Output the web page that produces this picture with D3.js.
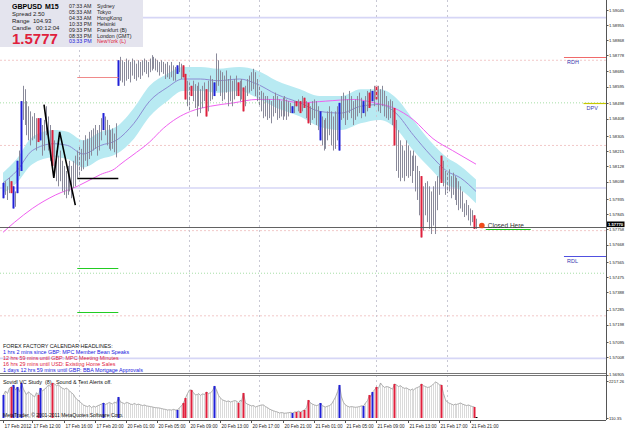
<!DOCTYPE html>
<html>
<head>
<meta charset="utf-8">
<script src="https://cdn.jsdelivr.net/npm/d3@7"></script>
<style>
body { margin: 0; background: #fff; }
svg text { font-family: "Liberation Sans", Arial, sans-serif; }
</style>
</head>
<body>
<div id="chart"></div>
<script>
const SVG_WIDTH = 625;
const SVG_HEIGHT = 429;
const AXIS_X = 606;          // price axis line
const MAIN_BOTTOM = 373;     // bottom of price window
const IND = { TOP: 381, BOTTOM: 418, FRAME: 420 };

// GBPUSD M15, bar highs / lows (17 Feb 2012 08:15 .. 21 Feb 2012 21:45)
const highs = [
  1.5803, 1.5804, 1.5801, 1.5806, 1.5804, 1.5801, 1.5798, 1.5816, 1.5822, 1.5851,
  1.5860, 1.5858, 1.5851, 1.5848, 1.5845, 1.5842, 1.5844, 1.5841, 1.5841, 1.5841,
  1.5837, 1.5840, 1.5848, 1.5842, 1.5837, 1.5834, 1.5828, 1.5822, 1.5819, 1.5822,
  1.5816, 1.5813, 1.5810, 1.5813, 1.5816, 1.5813, 1.5816, 1.5819, 1.5822, 1.5825,
  1.5823, 1.5828, 1.5831, 1.5829, 1.5833, 1.5834, 1.5835, 1.5837, 1.5834, 1.5837,
  1.5841, 1.5844, 1.5842, 1.5840, 1.5837, 1.5834, 1.5835, 1.5832, 1.5838, 1.5875,
  1.5877, 1.5875, 1.5874, 1.5876, 1.5875, 1.5874, 1.5876, 1.5875, 1.5873, 1.5875,
  1.5874, 1.5875, 1.5876, 1.5875, 1.5874, 1.5876, 1.5878, 1.5877, 1.5876, 1.5875,
  1.5874, 1.5875, 1.5874, 1.5873, 1.5874, 1.5872, 1.5874, 1.5872, 1.5871, 1.5872,
  1.5874, 1.5873, 1.5872, 1.5867, 1.5863, 1.5862, 1.5860, 1.5863, 1.5861, 1.5860,
  1.5862, 1.5858, 1.5860, 1.5862, 1.5858, 1.5863, 1.5866, 1.5864, 1.5862, 1.5879,
  1.5875, 1.5869, 1.5868, 1.5866, 1.5869, 1.5864, 1.5866, 1.5863, 1.5864, 1.5866,
  1.5862, 1.5863, 1.5864, 1.5859, 1.5860, 1.5864, 1.5866, 1.5868, 1.5870, 1.5868,
  1.5864, 1.5860, 1.5857, 1.5856, 1.5854, 1.5854, 1.5852, 1.5851, 1.5854, 1.5856,
  1.5854, 1.5852, 1.5851, 1.5853, 1.5854, 1.5852, 1.5851, 1.5850, 1.5848, 1.5851,
  1.5851, 1.5852, 1.5851, 1.5854, 1.5853, 1.5851, 1.5850, 1.5848, 1.5851, 1.5852,
  1.5851, 1.5848, 1.5845, 1.5842, 1.5840, 1.5841, 1.5845, 1.5848, 1.5845, 1.5842,
  1.5845, 1.5848, 1.5850, 1.5854, 1.5856, 1.5854, 1.5852, 1.5857, 1.5854, 1.5851,
  1.5852, 1.5854, 1.5856, 1.5853, 1.5851, 1.5854, 1.5857, 1.5856, 1.5858, 1.5857,
  1.5860, 1.5860, 1.5860, 1.5858, 1.5860, 1.5857, 1.5854, 1.5851, 1.5852, 1.5851,
  1.5847, 1.5840, 1.5834, 1.5828, 1.5825, 1.5822, 1.5828, 1.5825, 1.5822, 1.5819,
  1.5822, 1.5819, 1.5813, 1.5810, 1.5807, 1.5801, 1.5803, 1.5804, 1.5801, 1.5798,
  1.5801, 1.5804, 1.5807, 1.5813, 1.5819, 1.5816, 1.5810, 1.5809, 1.5811, 1.5807,
  1.5809, 1.5807, 1.5806, 1.5804, 1.5801, 1.5798, 1.5791, 1.5793, 1.5790, 1.5788,
  1.5787, 1.5784, 1.5782
];
const lows = [
  1.5794, 1.5796, 1.5793, 1.5797, 1.5797, 1.5788, 1.5789, 1.5797, 1.5807, 1.5810,
  1.5840, 1.5837, 1.5831, 1.5828, 1.5825, 1.5828, 1.5829, 1.5822, 1.5827, 1.5828,
  1.5819, 1.5822, 1.5831, 1.5822, 1.5816, 1.5813, 1.5807, 1.5804, 1.5801, 1.5804,
  1.5798, 1.5796, 1.5794, 1.5796, 1.5798, 1.5794, 1.5800, 1.5801, 1.5806, 1.5807,
  1.5810, 1.5811, 1.5816, 1.5813, 1.5817, 1.5819, 1.5822, 1.5823, 1.5819, 1.5822,
  1.5828, 1.5834, 1.5831, 1.5825, 1.5823, 1.5822, 1.5823, 1.5821, 1.5818, 1.5860,
  1.5863, 1.5862, 1.5860, 1.5863, 1.5864, 1.5862, 1.5866, 1.5864, 1.5863, 1.5865,
  1.5864, 1.5866, 1.5868, 1.5867, 1.5865, 1.5868, 1.5869, 1.5870, 1.5869, 1.5868,
  1.5866, 1.5868, 1.5867, 1.5864, 1.5865, 1.5864, 1.5865, 1.5863, 1.5863, 1.5867,
  1.5868, 1.5864, 1.5865, 1.5852, 1.5848, 1.5845, 1.5854, 1.5851, 1.5847, 1.5842,
  1.5848, 1.5844, 1.5847, 1.5851, 1.5842, 1.5845, 1.5851, 1.5852, 1.5854, 1.5857,
  1.5860, 1.5854, 1.5851, 1.5852, 1.5856, 1.5848, 1.5851, 1.5848, 1.5852, 1.5854,
  1.5854, 1.5851, 1.5852, 1.5845, 1.5848, 1.5854, 1.5856, 1.5857, 1.5858, 1.5854,
  1.5851, 1.5848, 1.5845, 1.5841, 1.5842, 1.5840, 1.5841, 1.5838, 1.5842, 1.5844,
  1.5840, 1.5841, 1.5842, 1.5840, 1.5842, 1.5840, 1.5842, 1.5844, 1.5844, 1.5844,
  1.5848, 1.5845, 1.5844, 1.5845, 1.5847, 1.5841, 1.5838, 1.5837, 1.5840, 1.5841,
  1.5837, 1.5834, 1.5828, 1.5825, 1.5822, 1.5823, 1.5828, 1.5831, 1.5825, 1.5822,
  1.5823, 1.5828, 1.5822, 1.5840, 1.5841, 1.5837, 1.5840, 1.5844, 1.5841, 1.5837,
  1.5840, 1.5842, 1.5844, 1.5841, 1.5844, 1.5842, 1.5845, 1.5847, 1.5848, 1.5851,
  1.5848, 1.5852, 1.5845, 1.5844, 1.5848, 1.5842, 1.5841, 1.5840, 1.5841, 1.5837,
  1.5825, 1.5810, 1.5806, 1.5804, 1.5806, 1.5804, 1.5807, 1.5806, 1.5807, 1.5803,
  1.5810, 1.5798, 1.5793, 1.5784, 1.5771, 1.5775, 1.5784, 1.5780, 1.5776, 1.5773,
  1.5778, 1.5773, 1.5787, 1.5796, 1.5803, 1.5801, 1.5796, 1.5797, 1.5798, 1.5794,
  1.5796, 1.5793, 1.5790, 1.5787, 1.5788, 1.5786, 1.5783, 1.5784, 1.5781, 1.5778,
  1.5780, 1.5776, 1.5776
];
// tick volume of each bar (Sovidl VC Study window)
const volumes = [
  1421, 1650, 1500, 1820, 1877, 1991, 1700, 1877, 1600, 2105,
  1750, 1535, 1450, 1600, 1500, 1421, 1300, 1550, 1421, 1820,
  1650, 1750, 1850, 1991, 1900, 2105, 2050, 1950, 2000, 1877,
  1800, 1750, 1820, 1706, 1650, 1550, 1450, 1250, 1150, 1050,
  950, 851, 800, 760, 820, 700, 780, 737, 800, 850,
  900, 965, 880, 940, 1000, 965, 900, 1020, 950, 1307,
  1022, 980, 920, 1000, 965, 900, 880, 940, 870, 900,
  860, 820, 851, 800, 780, 760, 740, 720, 700, 690,
  680, 650, 620, 600, 566, 580, 560, 600, 566, 566,
  700, 800, 965, 1250, 1500, 1706, 1706, 1550, 1421, 1450,
  1500, 1400, 1480, 1450, 1592, 1500, 1550, 1650, 1934, 1706,
  1400, 1250, 1136, 1100, 1050, 1080, 1022, 1060, 1100, 1080,
  965, 1136, 1050, 1535, 965, 900, 850, 800, 820, 737,
  780, 820, 851, 851, 760, 700, 620, 566, 520, 480,
  450, 395, 420, 400, 380, 395, 410, 430, 395, 452,
  452, 500, 452, 520, 566, 700, 1136, 965, 900, 850,
  820, 851, 965, 800, 760, 737, 780, 820, 900, 1100,
  1300, 1600, 1991, 1307, 1000, 850, 780, 737, 760, 740,
  720, 737, 760, 800, 794, 965, 1100, 1421, 1300, 1592,
  1700, 1877, 1800, 2105, 1950, 1850, 1900, 1877, 1820, 1750,
  2048, 1991, 1900, 1950, 1850, 1800, 1820, 1750, 1700, 1760,
  1706, 1800, 1850, 1900, 2048, 1950, 1900, 1850, 1877, 1950,
  2050, 2162, 2100, 2000, 1991, 1500, 1136, 1000, 950, 900,
  851, 900, 880, 920, 965, 900, 860, 820, 851, 800,
  760, 737, 167
];
const blueBars = [0, 5, 7, 9, 19, 51, 59, 89, 108, 148, 162, 172, 184, 189];
const redBars = [4, 18, 25, 92, 93, 96, 104, 120, 123, 150, 152, 154, 156, 187, 191, 200, 214, 224, 241];

// fast MA with its channel, read at sampled bars
const fastIdx = [0, 7, 15, 26, 33, 41, 50, 58, 67, 75, 84, 92, 101, 110, 121, 130, 140, 152, 162, 173, 183, 193, 201, 210, 219, 227, 234, 242];
const fastMa = [1.5803, 1.5810, 1.5822, 1.5826, 1.5825, 1.5820, 1.5825, 1.5828, 1.5838, 1.5851, 1.5859, 1.5864, 1.5864, 1.5863,
  1.5864, 1.5861, 1.5855, 1.5850, 1.5845, 1.5844, 1.5848, 1.5849, 1.5844, 1.5831, 1.5819, 1.5810, 1.5806, 1.5798];
const bandUpper = [1.5809, 1.5817, 1.5830, 1.5834, 1.5833, 1.5828, 1.5833, 1.5836, 1.5847, 1.5860, 1.5867, 1.5871, 1.5871, 1.5870,
  1.5871, 1.5869, 1.5863, 1.5858, 1.5854, 1.5854, 1.5858, 1.5858, 1.5853, 1.5840, 1.5827, 1.5818, 1.5813, 1.5805];
const bandLower = [1.5797, 1.5803, 1.5814, 1.5818, 1.5817, 1.5812, 1.5817, 1.5820, 1.5829, 1.5842, 1.5851, 1.5857, 1.5857, 1.5856,
  1.5857, 1.5853, 1.5847, 1.5842, 1.5836, 1.5834, 1.5838, 1.5840, 1.5835, 1.5822, 1.5811, 1.5802, 1.5799, 1.5791];
// slow MA (magenta)
const slowIdx = [0, 6, 15, 27, 38, 50, 58, 59, 66, 75, 82, 89, 96, 106, 118, 130, 140, 152, 165, 180, 190, 200, 210, 220, 230, 242];
const slowMa = [1.5774, 1.5780, 1.5788, 1.5796, 1.5801, 1.5808, 1.5812, 1.5813, 1.5819, 1.5827, 1.5835, 1.5841, 1.5845, 1.5848,
  1.5850, 1.5852, 1.5852, 1.5850, 1.5851, 1.5852, 1.5850, 1.5847, 1.5840, 1.5829, 1.5822, 1.5814];

// drawn objects
const zigzagIdx = [21, 26, 29, 37];
const zigzagPrice = [1.5849, 1.5806, 1.5833, 1.5790];
const fridayLines = [
  { from: 38, to: 59, price: 1.5865, color: "#f08a8a" },
  { from: 38, to: 59, price: 1.5806, color: "#000000" },
  { from: 38, to: 59, price: 1.5753, color: "#22cc22" },
  { from: 38, to: 59, price: 1.5727, color: "#22cc22" }
];
const pivotNames = ["RDH", "DPV", "RDL"];
const pivotPrices = [1.5877, 1.5850, 1.5760];
const pivotFrom = [287, 297, 287];
const pivotColors = ["#f06a6a", "#c8c800", "#5050e0"];
const roundLevels = [1.5900, 1.5800, 1.5700];
const halfLevels = [1.5850, 1.5750];
const quarterLevels = [1.5875, 1.5825, 1.5775, 1.5725];
const sessionBars = [39, 95, 131, 191, 227];
const lastPrice = 1.5777;
const closedIdx = 245;

// axis labels
const priceTicks = [1.59045, 1.58955, 1.58868, 1.58778, 1.58685, 1.58595, 1.58498, 1.58408, 1.58305, 1.58215, 1.58128, 1.58038,
  1.57935, 1.57845, 1.57758, 1.57668, 1.57565, 1.57475, 1.57388, 1.57285, 1.57198, 1.57095, 1.57008, 1.56905];
const timeLabels = ["17 Feb 2012", "17 Feb 12:00", "17 Feb 16:00", "17 Feb 20:00", "20 Feb 01:00", "20 Feb 05:00",
  "20 Feb 09:00", "20 Feb 13:00", "20 Feb 17:00", "20 Feb 21:00", "21 Feb 01:00", "21 Feb 05:00",
  "21 Feb 09:00", "21 Feb 13:00", "21 Feb 17:00", "21 Feb 21:00"];
const timeIdx = [0, 15, 31, 47, 63, 79, 95, 111, 127, 143, 159, 175, 191, 207, 223, 239];
const volMax = 2217.26, volMin = 110.35;

// info panel texts
const infoLabels = ["Spread", "Range", "Candle"];
const infoValues = ["2.50", "104.93", "00:12:04"];
const clockTimes = ["07:33 AM", "05:33 AM", "04:33 AM", "10:33 PM", "09:33 PM", "08:33 PM", "03:33 PM"];
const clockCities = ["Sydney", "Tokyo", "HongKong", "Helsinki", "Frankfurt (B)", "London (GMT)", "NewYork (L)"];
const newsLines = [
  "1 hrs 2 mins since GBP: MPC Member Bean Speaks",
  "12 hrs 59 mins until GBP: MPC Meeting Minutes",
  "16 hrs 29 mins until USD: Existing Home Sales",
  "1 days 12 hrs 59 mins until GBP: BBA Mortgage Approvals"
];
const newsColors = ["#2020e0", "#e0203c", "#e0203c", "#2020e0"];

const RED = "#e0203c", BLUE = "#2020d8";

function draw() {
  const svg = d3.select("#chart").append("svg")
    .attr("width", SVG_WIDTH)
    .attr("height", SVG_HEIGHT);
  svg.append("rect").attr("width", SVG_WIDTH).attr("height", SVG_HEIGHT).attr("fill", "#fff");

  const N = highs.length;
  const x = d3.scaleLinear().domain([0, N - 1]).range([3, 476]);
  const y = d3.scaleLinear().domain([1.56905, 1.59045]).range([374.6, 10]);
  const yv = d3.scaleLinear().domain([volMin, volMax]).range([IND.BOTTOM, IND.TOP]);
  const px = i => Math.round(x(i)) + 0.5;

  svg.append("clipPath").attr("id", "mainClip").append("rect")
    .attr("width", AXIS_X).attr("height", MAIN_BOTTOM);
  const main = svg.append("g").attr("clip-path", "url(#mainClip)");

  // round number levels
  main.selectAll(".rl").data(roundLevels).enter().append("line")
    .attr("x1", 0).attr("x2", AXIS_X).attr("y1", d => y(d)).attr("y2", d => y(d))
    .attr("stroke", "#d6d6f6").attr("stroke-width", 1.6);
  main.selectAll(".hl").data(halfLevels).enter().append("line")
    .attr("x1", 0).attr("x2", AXIS_X).attr("y1", d => y(d)).attr("y2", d => y(d))
    .attr("stroke", "#a6dea6").attr("stroke-dasharray", "1,2");
  main.selectAll(".ql").data(quarterLevels).enter().append("line")
    .attr("x1", 0).attr("x2", AXIS_X).attr("y1", d => y(d)).attr("y2", d => y(d))
    .attr("stroke", "#f2c8c8").attr("stroke-dasharray", "2,2");

  // session separators
  svg.selectAll(".sess").data(sessionBars).enter().append("line")
    .attr("x1", d => px(d)).attr("x2", d => px(d)).attr("y1", 0).attr("y2", IND.FRAME)
    .attr("stroke", "#c8c8d4").attr("stroke-dasharray", "2,3");

  // channel + fast MA
  const band = fastIdx.map((d, k) => ({ i: d, hi: bandUpper[k], lo: bandLower[k], m: fastMa[k] }));
  main.append("path").datum(band)
    .attr("d", d3.area().x(d => x(d.i)).y0(d => y(d.lo)).y1(d => y(d.hi)).curve(d3.curveMonotoneX))
    .attr("fill", "#b8eaf2");
  main.append("path").datum(band)
    .attr("d", d3.line().x(d => x(d.i)).y(d => y(d.m)).curve(d3.curveMonotoneX))
    .attr("fill", "none").attr("stroke", "#8c8cd4").attr("stroke-width", 1);

  // slow MA
  main.append("path").datum(slowIdx.map((d, k) => [d, slowMa[k]]))
    .attr("d", d3.line().x(d => x(d[0])).y(d => y(d[1])).curve(d3.curveMonotoneX))
    .attr("fill", "none").attr("stroke", "#f060f0").attr("stroke-width", 1);

  // bars
  const bars = d3.range(N);
  main.selectAll(".bar").data(bars).enter().append("line")
    .attr("x1", i => px(i)).attr("x2", i => px(i))
    .attr("y1", i => y(highs[i])).attr("y2", i => y(lows[i]))
    .attr("stroke", "#8a8a9a").attr("stroke-width", 1);
  const colored = blueBars.map(i => [i, BLUE]).concat(redBars.map(i => [i, RED]));
  main.selectAll(".cbar").data(colored).enter().append("rect")
    .attr("x", d => Math.round(x(d[0])) - 0.5).attr("width", 2)
    .attr("y", d => y(highs[d[0]])).attr("height", d => y(lows[d[0]]) - y(highs[d[0]]))
    .attr("fill", d => d[1]);

  // zigzag
  main.append("path").datum(zigzagIdx.map((d, k) => [d, zigzagPrice[k]]))
    .attr("d", d3.line().x(d => x(d[0])).y(d => y(d[1])))
    .attr("fill", "none").attr("stroke", "#000").attr("stroke-width", 1.6);

  // friday levels
  main.selectAll(".fri").data(fridayLines).enter().append("line")
    .attr("x1", d => x(d.from)).attr("x2", d => x(d.to))
    .attr("y1", d => Math.round(y(d.price)) + 0.5).attr("y2", d => Math.round(y(d.price)) + 0.5)
    .attr("stroke", d => d.color).attr("stroke-width", d => d.color === "#000000" ? 1.5 : 1);

  // pivots on the right
  pivotNames.forEach((name, k) => {
    const yy = Math.round(y(pivotPrices[k])) + 0.5;
    main.append("line").attr("x1", x(pivotFrom[k])).attr("x2", AXIS_X).attr("y1", yy).attr("y2", yy)
      .attr("stroke", pivotColors[k]).attr("stroke-width", 1.2);
    main.append("text").attr("x", x(pivotFrom[k]) + 3).attr("y", yy + 6)
      .attr("font-size", 5.5).attr("fill", "#3a3ab0").text(name);
  });

  // last price line
  const ly = Math.round(y(lastPrice)) + 0.5;
  main.append("line").attr("x1", 0).attr("x2", AXIS_X).attr("y1", ly).attr("y2", ly)
    .attr("stroke", "#505050").attr("stroke-width", 0.9);

  // closed here marker
  main.append("line").attr("x1", x(closedIdx + 2)).attr("x2", x(closedIdx + 25))
    .attr("y1", ly + 2).attr("y2", ly + 2).attr("stroke", "#22cc22").attr("stroke-width", 1.2);
  main.append("circle").attr("cx", x(closedIdx)).attr("cy", y(lastPrice + 0.0001)).attr("r", 2.8)
    .attr("fill", "#f04a1a");
  main.append("text").attr("x", x(closedIdx) + 6).attr("y", ly)
    .attr("font-size", 6.5).attr("fill", "#333").text("Closed Here");

  // info panel
  const info = svg.append("g");
  info.append("rect").attr("x", 0).attr("y", 0).attr("width", 143).attr("height", 47).attr("fill", "#e4e4ee");
  info.append("text").attr("x", 12).attr("y", 8.5).attr("font-size", 7).attr("font-weight", "bold").text("GBPUSD");
  info.append("text").attr("x", 45).attr("y", 8.5).attr("font-size", 7).attr("font-weight", "bold").text("M15");
  infoLabels.forEach((t, k) => {
    info.append("text").attr("x", 12).attr("y", 16 + k * 7).attr("font-size", 6).attr("fill", "#222").text(t);
    info.append("text").attr("x", k === 2 ? 36 : 33).attr("y", 16 + k * 7).attr("font-size", 6).attr("fill", "#222").text(infoValues[k]);
  });
  info.append("text").attr("x", 12).attr("y", 43.5).attr("font-size", 15).attr("font-weight", "bold")
    .attr("fill", RED).text(lastPrice.toFixed(4));
  clockTimes.forEach((t, k) => {
    const last = k === clockTimes.length - 1;
    info.append("text").attr("x", 69).attr("y", 8 + k * 5.9).attr("font-size", 5.3)
      .attr("fill", last ? BLUE : "#222").text(t);
    info.append("text").attr("x", 97).attr("y", 8 + k * 5.9).attr("font-size", 5.3)
      .attr("fill", last ? RED : "#222").text(clockCities[k]);
  });

  // news headlines
  svg.append("text").attr("x", 3).attr("y", 347.5).attr("font-size", 5.4).attr("fill", "#111")
    .text("FOREX FACTORY CALENDAR HEADLINES:");
  svg.selectAll(".news").data(newsLines).enter().append("text")
    .attr("x", 3).attr("y", (d, k) => 354 + k * 6)
    .attr("font-size", 5.4).attr("fill", (d, k) => newsColors[k]).text(d => d);

  // price axis
  svg.append("line").attr("x1", AXIS_X + 0.5).attr("x2", AXIS_X + 0.5).attr("y1", 0).attr("y2", IND.FRAME)
    .attr("stroke", "#555");
  const pt = svg.append("g");
  pt.selectAll("line").data(priceTicks).enter().append("line")
    .attr("x1", AXIS_X).attr("x2", AXIS_X + 2.5).attr("y1", d => Math.round(y(d)) + 0.5).attr("y2", d => Math.round(y(d)) + 0.5)
    .attr("stroke", "#555");
  pt.selectAll("text").data(priceTicks).enter().append("text")
    .attr("x", AXIS_X + 3).attr("y", d => y(d) + 1.6).attr("font-size", 4.2).attr("fill", "#222")
    .text(d => d.toFixed(5));
  svg.append("rect").attr("x", AXIS_X + 1).attr("y", ly - 6).attr("width", 17.5).attr("height", 5.6).attr("fill", "#000");
  svg.append("text").attr("x", AXIS_X + 2).attr("y", ly - 1.7).attr("font-size", 4.2).attr("fill", "#fff")
    .attr("font-weight", "bold").text(lastPrice.toFixed(5));

  // window separator
  [MAIN_BOTTOM + 0.5, MAIN_BOTTOM + 2.5].forEach(v => {
    svg.append("line").attr("x1", 0).attr("x2", AXIS_X).attr("y1", v).attr("y2", v).attr("stroke", "#777");
  });

  // volume window
  const vol = svg.append("g");
  vol.selectAll(".v").data(bars).enter().append("line")
    .attr("x1", i => px(i)).attr("x2", i => px(i))
    .attr("y1", i => yv(volumes[i])).attr("y2", IND.BOTTOM)
    .attr("stroke", "#dadada");
  vol.append("path").datum(bars.slice(0, N - 1))
    .attr("d", d3.line().x(i => px(i)).y(i => yv(volumes[i])))
    .attr("fill", "none").attr("stroke", "#9c9c9c").attr("stroke-width", 0.8);
  vol.selectAll(".cv").data(colored).enter().append("rect")
    .attr("x", d => Math.round(x(d[0])) - 0.5).attr("width", 2)
    .attr("y", d => yv(volumes[d[0]])).attr("height", d => IND.BOTTOM - yv(volumes[d[0]]))
    .attr("fill", d => d[1]);
  vol.append("rect").attr("x", Math.round(x(N - 1)) - 0.5).attr("y", yv(volumes[N - 1]))
    .attr("width", 2).attr("height", IND.BOTTOM - yv(volumes[N - 1])).attr("fill", "#000");
  vol.append("text").attr("x", 3).attr("y", 384).attr("font-size", 5.4).attr("fill", "#111")
    .attr("xml:space", "preserve").text("Sovidl VC Study  (8)   Sound & Text Alerts off.");
  vol.append("text").attr("x", 3).attr("y", 417).attr("font-size", 5).attr("fill", "#111")
    .text("MetaTrader, \u00a9 2001-2011 MetaQuotes Software Corp.");
  [volMax, volMin].forEach(v => {
    vol.append("line").attr("x1", AXIS_X).attr("x2", AXIS_X + 2.5).attr("y1", Math.round(yv(v)) + 0.5).attr("y2", Math.round(yv(v)) + 0.5).attr("stroke", "#555");
    vol.append("text").attr("x", AXIS_X + 3).attr("y", yv(v) + 1.6).attr("font-size", 4.2)
      .attr("fill", "#222").text(v.toFixed(2));
  });
  svg.append("line").attr("x1", 0).attr("x2", AXIS_X).attr("y1", IND.FRAME + 0.5).attr("y2", IND.FRAME + 0.5).attr("stroke", "#555");

  // time axis
  const tg = svg.append("g");
  tg.selectAll("line").data(timeIdx).enter().append("line")
    .attr("x1", i => px(i)).attr("x2", i => px(i)).attr("y1", IND.FRAME).attr("y2", IND.FRAME + 3)
    .attr("stroke", "#555");
  tg.selectAll("text").data(timeLabels).enter().append("text")
    .attr("x", (d, k) => px(timeIdx[k]) + 1).attr("y", 427.5)
    .attr("font-size", 5).attr("textLength", 27).attr("lengthAdjust", "spacingAndGlyphs")
    .attr("fill", "#222").text(d => d);
}

draw();
</script>
</body>
</html>
